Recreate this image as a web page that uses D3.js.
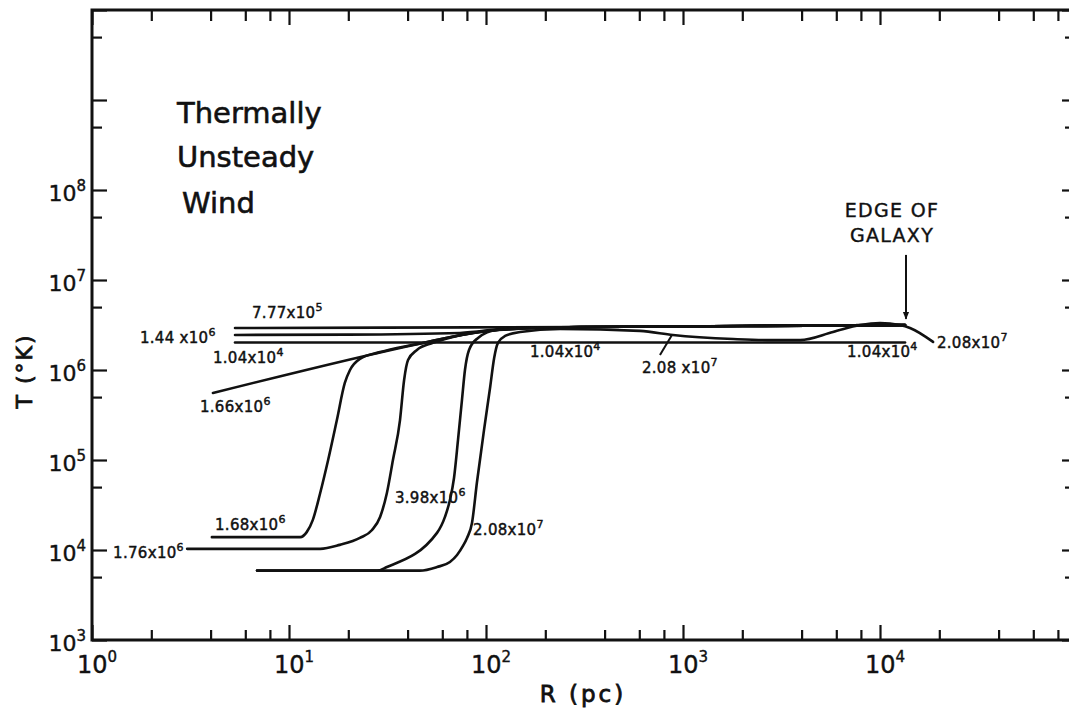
<!DOCTYPE html>
<html><head><meta charset="utf-8">
<script src="https://cdn.jsdelivr.net/npm/d3@7"></script>
<style>
body{margin:0;background:#fff}
svg{display:block}
text{font-family:"DejaVu Sans",sans-serif;fill:#111}
</style></head><body>
<svg id="c" width="1069" height="713"></svg>
<script>
// ---------- data ----------
const xDomain = [1, 1e5];
const yDomain = [1e3, 1e10];
const xMajorTicks = [1, 10, 100, 1000, 10000, 100000];
const xTickExps = ["0", "1", "2", "3", "4"];
const yMajorTicks = [1e3, 1e4, 1e5, 1e6, 1e7, 1e8, 1e9, 1e10];
const yTickExps = ["3", "4", "5", "6", "7", "8"];

// curves: [R (pc), T (K)], labelled by time (yr)
const t_7_77e5 = [[5.32,2.93e6],[30,2.96e6],[300,3.0e6],[2000,3.08e6],[13400,3.16e6]];
const t_1_44e6 = [[5.32,2.45e6],[20,2.47e6],[73.8,2.58e6],[132,2.9e6],[300,3.0e6],[2000,3.08e6],[13400,3.16e6]];
const t_1_04e4 = [[5.32,2.02e6],[13400,2.02e6]];
const t_1_66e6 = [[4.11,5.55e5],[47.9,2.0e6],[75,2.45e6],[132,2.85e6],[300,3.0e6],[2000,3.08e6],[13400,3.16e6]];
const t_1_68e6 = [[4.06,1.39e4],[11.4,1.39e4],[12.3,1.58e4],[13.2,2.15e4],[14.4,4.3e4],[15.8,1e5],[17.5,2.78e5],[19.2,7.18e5],[20.4,1e6],[22.9,1.33e6],[29,1.58e6],[39.7,1.85e6],[47.9,2.0e6],[75,2.45e6],[132,2.85e6],[300,3.0e6],[2000,3.08e6],[13400,3.16e6]];
const t_1_76e6 = [[3.04,1.03e4],[14.4,1.03e4],[18.1,1.14e4],[22.9,1.36e4],[26.4,1.67e4],[29,2.33e4],[31.4,4.3e4],[33.7,1e5],[36.6,2.78e5],[38.4,7.74e5],[40.2,1.29e6],[44.6,1.67e6],[53.8,2.0e6],[75,2.45e6],[132,2.85e6],[300,3.0e6],[2000,3.08e6],[13400,3.16e6]];
const t_3_98e6 = [[6.88,5.9e3],[28,5.9e3],[31.4,6.47e3],[56.4,1.55e4],[61.9,2.33e4],[65.6,3.59e4],[68.8,6.31e4],[72.1,1.67e5],[75.5,4.64e5],[78.2,1e6],[82,1.67e6],[91.1,2.27e6],[114,2.78e6],[300,3.0e6],[2000,3.08e6],[13400,3.16e6]];
const t_2_08e7 = [[6.88,5.9e3],[46.2,5.9e3],[56.4,6.47e3],[65.6,7.36e3],[71.3,8.8e3],[76.4,1.11e4],[80.1,1.36e4],[84.9,2.0e4],[90,5.7e4],[97.7,2.15e5],[105,6.47e5],[110,1.36e6],[115,2.0e6],[125,2.39e6],[149,2.64e6],[238,2.85e6],[605,2.72e6],[889,2.45e6],[1800,2.21e6],[2670,2.15e6],[3930,2.15e6],[5770,2.64e6],[7910,3.16e6],[10000,3.33e6],[12600,3.16e6],[14200,2.93e6],[18600,2.05e6]];

const curves = [t_7_77e5, t_1_44e6, t_1_04e4, t_1_66e6, t_1_68e6, t_1_76e6, t_3_98e6, t_2_08e7];

// curve labels: mantissa, exponent, anchor (R, T)
const labelText = ["7.77x10","1.44 x10","1.04x10","1.66x10","1.68x10","1.76x10","3.98x10","2.08x10","1.04x10","2.08 x10","1.04x10","2.08x10"];
const labelExp  = ["5","6","4","6","6","6","6","7","4","7","4","7"];
const labelR    = [6.49, 1.75, 4.11, 3.53, 4.21, 1.28, 34.5, 85.9, 167, 619, 6790, 19460];
const labelT    = [3.78e6, 2.0e6, 1.2e6, 3.41e5, 1.67e4, 8.15e3, 3.33e4, 1.47e4, 1.39e6, 9.26e5, 1.39e6, 1.76e6];
const leader = [[764,1.47e6],[879,2.45e6]];
const edgeArrow = [[13550,1.9e7],[13550,3.7e6]];

// ---------- drawing ----------
const svg = d3.select("#c");
const L = 92, R = 1077, T = 10, B = 640;
const x = d3.scaleLog().domain(xDomain).range([L, R]);
const y = d3.scaleLog().domain(yDomain).range([B, T]);

const xMinor = [];
for (let d = 1; d < 1e5; d *= 10) [2,4,6,8].forEach(k => xMinor.push(k*d));
const yMinor = [];
for (let d = 1e3; d < 1e10; d *= 10) yMinor.push(5*d);

function styleAxis(g){
  g.select(".domain").remove();
  g.selectAll(".tick line").attr("stroke","#111").attr("stroke-width",2.2);
  g.selectAll(".tick text").remove();
}
// bottom (ticks inward = up)
svg.append("g").attr("transform",`translate(0,${B})`).call(d3.axisTop(x).tickValues(xMajorTicks).tickSize(15)).call(styleAxis);
svg.append("g").attr("transform",`translate(0,${B})`).call(d3.axisTop(x).tickValues(xMinor).tickSize(10)).call(styleAxis);
// top (ticks inward = down)
svg.append("g").attr("transform",`translate(0,${T})`).call(d3.axisBottom(x).tickValues(xMajorTicks).tickSize(15)).call(styleAxis);
svg.append("g").attr("transform",`translate(0,${T})`).call(d3.axisBottom(x).tickValues(xMinor).tickSize(11)).call(styleAxis);
// left (ticks inward = right)
svg.append("g").attr("transform",`translate(${L},0)`).call(d3.axisRight(y).tickValues(yMajorTicks).tickSize(15)).call(styleAxis);
svg.append("g").attr("transform",`translate(${L},0)`).call(d3.axisRight(y).tickValues(yMinor).tickSize(10)).call(styleAxis);
// right (ticks inward = left)
svg.append("g").attr("transform",`translate(${R},0)`).call(d3.axisLeft(y).tickValues(yMajorTicks).tickSize(15)).call(styleAxis);
svg.append("g").attr("transform",`translate(${R},0)`).call(d3.axisLeft(y).tickValues(yMinor).tickSize(12)).call(styleAxis);

// frame
svg.append("path").attr("d",`M${L},${B}V${T}H${R}V${B}Z`).attr("fill","none").attr("stroke","#111").attr("stroke-width",3);

// tick labels
xTickExps.forEach((e,i)=>{
  const t = svg.append("text").attr("x", x(Math.pow(10,+e)) + 5).attr("y", 673)
    .attr("text-anchor","middle").attr("font-size",24).attr("stroke","#111").attr("stroke-width",0.4);
  t.append("tspan").text("10");
  t.append("tspan").attr("font-size",15).attr("dy",-11).text(e);
});
yTickExps.forEach((e,i)=>{
  const t = svg.append("text").attr("x", 86).attr("y", y(Math.pow(10,+e)) + 11)
    .attr("text-anchor","end").attr("font-size",22).attr("stroke","#111").attr("stroke-width",0.4);
  t.append("tspan").text("10");
  t.append("tspan").attr("font-size",15).attr("dy",-10).text(e);
});

// axis titles
svg.append("text").attr("transform","translate(32,371) rotate(-90)").attr("text-anchor","middle")
  .attr("font-size",22).attr("letter-spacing",2).attr("stroke","#111").attr("stroke-width",0.8).text("T (°K)");
svg.append("text").attr("x",583).attr("y",702).attr("text-anchor","middle")
  .attr("font-size",23).attr("letter-spacing",3).attr("stroke","#111").attr("stroke-width",0.8).text("R (pc)");

// curves
const line = d3.line().x(d=>x(d[0])).y(d=>y(d[1])).curve(d3.curveMonotoneX);
svg.append("g").selectAll("path").data(curves).join("path")
  .attr("d", line).attr("fill","none").attr("stroke","#111").attr("stroke-width",2.6)
  .attr("stroke-linejoin","round").attr("stroke-linecap","round");

// curve labels
labelText.forEach((m,i)=>{
  const t = svg.append("text").attr("x", x(labelR[i])).attr("y", y(labelT[i]))
    .attr("font-size",15).attr("letter-spacing",0.3).attr("stroke","#111").attr("stroke-width",0.45);
  t.append("tspan").text(m);
  t.append("tspan").attr("font-size",11).attr("dy",-7).text(labelExp[i]);
});
svg.append("path").attr("d", d3.line().x(d=>x(d[0])).y(d=>y(d[1]))(leader))
  .attr("stroke","#111").attr("stroke-width",2);

// title block
const title = ["Thermally","Unsteady","Wind"];
const titleX = [177,177,182], titleY = [123,167,213];
title.forEach((s,i)=>{
  svg.append("text").attr("x",titleX[i]).attr("y",titleY[i]).attr("font-size",29)
    .attr("stroke","#111").attr("stroke-width",0.6).text(s);
});

// edge of galaxy
svg.append("defs").append("marker").attr("id","ah").attr("viewBox","0 0 10 10").attr("refX",9).attr("refY",5)
  .attr("markerWidth",4).attr("markerHeight",6).attr("orient","auto")
  .append("path").attr("d","M0,1L10,5L0,9Z").attr("fill","#111");
svg.append("path").attr("d", d3.line().x(d=>x(d[0])).y(d=>y(d[1]))(edgeArrow))
  .attr("stroke","#111").attr("stroke-width",2).attr("marker-end","url(#ah)");
[["EDGE OF",217],["GALAXY",242]].forEach(([s,yy])=>{
  svg.append("text").attr("x",892).attr("y",yy).attr("text-anchor","middle").attr("font-size",19)
    .attr("letter-spacing",1.3).attr("stroke","#111").attr("stroke-width",0.4).text(s);
});
</script>
</body></html>
